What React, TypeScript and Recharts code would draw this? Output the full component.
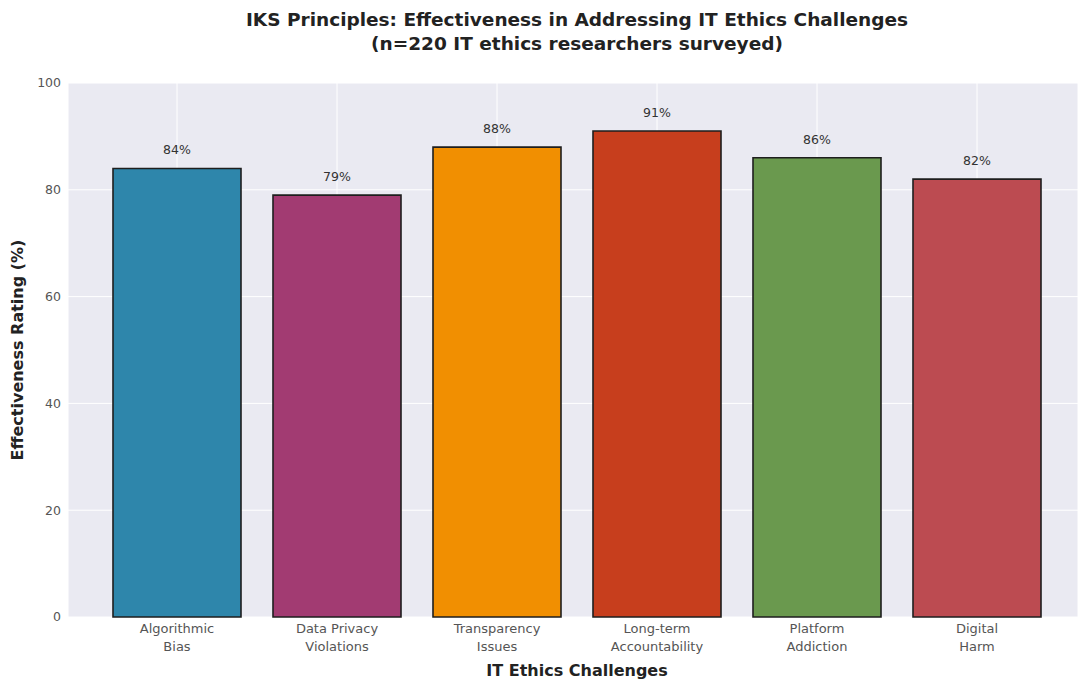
import { BarChart, Bar, XAxis, YAxis, CartesianGrid, LabelList, Cell } from "recharts";

const challenges = [
  ["Algorithmic", "Bias"],
  ["Data Privacy", "Violations"],
  ["Transparency", "Issues"],
  ["Long-term", "Accountability"],
  ["Platform", "Addiction"],
  ["Digital", "Harm"],
];
const effectiveness = [84, 79, 88, 91, 86, 82];
const barColors = ["#2E86AB", "#A23B72", "#F18F01", "#C73E1D", "#6A994E", "#BC4B51"];
const yTicks = [0, 20, 40, 60, 80, 100];

const data = challenges.map((lines, i) => ({
  name: lines.join(" "),
  value: effectiveness[i],
}));

const FONT = "'DejaVu Sans', Verdana, sans-serif";

// two-line category labels under each bar
function CategoryTick({ x, y, payload }: any) {
  const lines = challenges[payload.index] ?? [payload.value];
  return (
    <text x={x} y={y} textAnchor="middle" fill="#555" fontSize={13} fontFamily={FONT}>
      {lines.map((line, i) => (
        <tspan key={i} x={x} dy={i === 0 ? 14 : 18}>
          {line}
        </tspan>
      ))}
    </text>
  );
}

function XLabel() {
  return (
    <text x={577} y={676} textAnchor="middle" fontFamily={FONT} fontWeight="bold" fontSize={16} fill="#222">
      IT Ethics Challenges
    </text>
  );
}

function YLabel({ viewBox }: any) {
  const cy = viewBox.y + viewBox.height / 2;
  return (
    <text
      x={23}
      y={cy}
      transform={`rotate(-90, 23, ${cy})`}
      textAnchor="middle"
      fontFamily={FONT}
      fontWeight="bold"
      fontSize={16}
      fill="#222"
    >
      Effectiveness Rating (%)
    </text>
  );
}

export default function App() {
  return (
    <div style={{ position: "absolute", left: 0, top: 0, width: 1078, height: 681, background: "#fff" }}>
      <BarChart
        width={1078}
        height={681}
        data={data}
        margin={{ top: 83, right: 0, bottom: 0, left: 0 }}
        barCategoryGap="10%"
      >
        <CartesianGrid stroke="#fff" strokeWidth={1} fill="#EAEAF2" />
        <XAxis
          dataKey="name"
          height={64}
          padding={{ left: 29, right: 21 }}
          axisLine={false}
          tickLine={false}
          tickSize={0}
          interval={0}
          tick={<CategoryTick />}
          label={<XLabel />}
        />
        <YAxis
          domain={[0, 100]}
          ticks={yTicks}
          width={68}
          axisLine={false}
          tickLine={false}
          tickSize={0}
          tickMargin={7}
          tick={{ fill: "#555", fontSize: 12.5, fontFamily: FONT }}
          label={<YLabel />}
        />
        <Bar dataKey="value" stroke="#1e1e1e" strokeWidth={1.6} isAnimationActive={false}>
          {data.map((_, i) => (
            <Cell key={i} fill={barColors[i]} />
          ))}
          <LabelList
            dataKey="value"
            position="top"
            offset={14}
            formatter={(v: any) => `${v}%`}
            style={{ fill: "#333", fontSize: 12.5, fontFamily: FONT }}
          />
        </Bar>
      </BarChart>
      <svg width={1078} height={70} style={{ position: "absolute", left: 0, top: 0 }}>
        <text x={577} y={26} textAnchor="middle" fontFamily={FONT} fontWeight="bold" fontSize={18.5} fill="#222">
          IKS Principles: Effectiveness in Addressing IT Ethics Challenges
        </text>
        <text x={577} y={50} textAnchor="middle" fontFamily={FONT} fontWeight="bold" fontSize={18.5} fill="#222">
          (n=220 IT ethics researchers surveyed)
        </text>
      </svg>
    </div>
  );
}
